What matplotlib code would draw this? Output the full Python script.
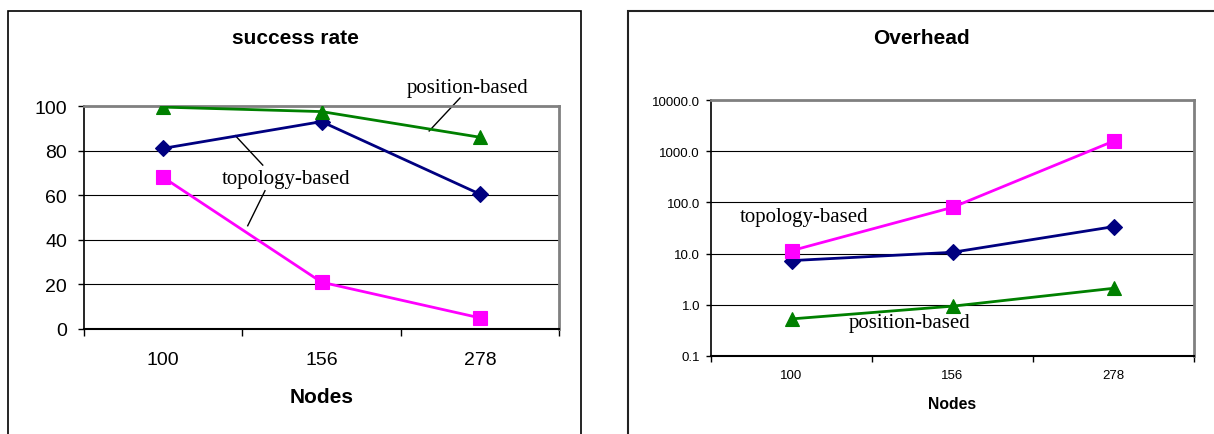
import numpy as np
import matplotlib
matplotlib.use('Agg')
import matplotlib.pyplot as plt
from matplotlib.patches import Rectangle
from matplotlib.ticker import FixedLocator, FixedFormatter, NullLocator

# data
nodes = ['100', '156', '278']
success_topo_diamond = [81, 93, 60.5]
success_topo_square = [68, 21, 5]
success_position = [99.5, 97.5, 86]
overhead_topo_diamond = [7.3, 10.6, 33.6]
overhead_topo_square = [11.4, 80, 1570]
overhead_position = [0.53, 0.94, 2.1]

W, H = 1214, 435
fig = plt.figure(figsize=(W / 100, H / 100), dpi=100)

navy = '#000080'
magenta = '#FF00FF'
green = '#008000'
sans = 'Liberation Sans'
serif = 'Liberation Serif'


def fx(px):
    return px / W


def fy(py):
    return 1 - py / H


# panel frames
fig.add_artist(Rectangle((fx(8), -0.05), fx(581) - fx(8), fy(12) + 0.05,
                         transform=fig.transFigure, fill=False, lw=1.2, ec='black'))
fig.add_artist(Rectangle((fx(628), -0.05), 1.2, fy(12) + 0.05,
                         transform=fig.transFigure, fill=False, lw=1.5, ec='#222222'))


def style_axes(ax, fs, ylen, ypad, xpad):
    x = np.arange(len(nodes))
    ax.set_xlim(-0.5, len(nodes) - 0.5)
    ax.xaxis.set_major_locator(FixedLocator(x))
    ax.xaxis.set_major_formatter(FixedFormatter(nodes))
    ax.xaxis.set_minor_locator(FixedLocator(np.arange(len(nodes) + 1) - 0.5))
    ax.tick_params(axis='x', which='major', length=0, pad=xpad, labelsize=fs)
    ax.tick_params(axis='x', which='minor', length=ylen + 1, width=1, direction='out')
    ax.tick_params(axis='y', which='major', length=ylen, width=1, direction='out',
                   pad=ypad, labelsize=fs)
    ax.tick_params(axis='y', which='minor', length=0)
    for lab in ax.get_xticklabels() + ax.get_yticklabels():
        lab.set_family(sans)
    ax.grid(axis='y', color='black', lw=0.8)
    ax.set_axisbelow(True)
    ax.spines['top'].set_color('#808080')
    ax.spines['right'].set_color('#808080')
    ax.spines['top'].set_linewidth(2)
    ax.spines['right'].set_linewidth(2)
    ax.spines['left'].set_linewidth(1.2)
    ax.spines['bottom'].set_linewidth(1.5)


def draw_series(ax, d, s, p):
    x = np.arange(len(nodes))
    ax.plot(x, d, color=navy, lw=2, marker='D', ms=8, mew=0.8, zorder=3)
    ax.plot(x, s, color=magenta, lw=2, marker='s', ms=10, mew=0.8, zorder=3)
    ax.plot(x, p, color=green, lw=2, marker='^', ms=10.5, mew=0.8, zorder=3)


# left chart: success rate
ax1 = fig.add_axes([fx(84), fy(330), fx(559) - fx(84), fy(107) - fy(330)])
draw_series(ax1, success_topo_diamond, success_topo_square, success_position)
ax1.set_ylim(0, 100)
ax1.set_yticks([0, 20, 40, 60, 80, 100])
style_axes(ax1, 14, 4.3, 8, 16)
ax1.set_xlabel('Nodes', fontsize=15, fontweight='bold', family=sans)
ax1.xaxis.set_label_coords(0.5, (330 - 398) / 223)
ax1.xaxis.label.set_va('center')
fig.text(fx(295), fy(39), 'success rate', ha='center', va='center',
         fontsize=15, fontweight='bold', family=sans)

ax1.text(1.92, 108.5, 'position-based', ha='center', va='center',
         fontsize=15, family=serif, clip_on=False)
ax1.plot([1.875, 1.68], [103.6, 88.8], color='black', lw=1, clip_on=False)
ax1.text(0.776, 67.7, 'topology-based', ha='center', va='center',
         fontsize=15, family=serif)
ax1.plot([0.629, 0.456], [73.5, 86.7], color='black', lw=1)
ax1.plot([0.643, 0.534], [62.0, 46.3], color='black', lw=1)

# right chart: overhead
ax2 = fig.add_axes([fx(711), fy(357), fx(1194) - fx(711), fy(101) - fy(357)])
draw_series(ax2, overhead_topo_diamond, overhead_topo_square, overhead_position)
ax2.set_yscale('log')
ax2.set_ylim(0.1, 10000)
ax2.yaxis.set_major_locator(FixedLocator([0.1, 1, 10, 100, 1000, 10000]))
ax2.yaxis.set_major_formatter(FixedFormatter(['0.1', '1.0', '10.0', '100.0', '1000.0', '10000.0']))
ax2.yaxis.set_minor_locator(NullLocator())
style_axes(ax2, 9.5, 3.6, 4.3, 9.5)
ax2.set_xlabel('Nodes', fontsize=11.3, fontweight='bold', family=sans)
ax2.xaxis.set_label_coords(0.5, (357 - 405) / 256)
ax2.xaxis.label.set_va('center')
fig.text(fx(921), fy(39), 'Overhead', ha='center', va='center',
         fontsize=15, fontweight='bold', family=sans)

ax2.text(0.078, 54, 'topology-based', ha='center', va='center',
         fontsize=15, family=serif)
ax2.text(0.733, 0.46, 'position-based', ha='center', va='center',
         fontsize=15, family=serif)

fig.savefig('out.png', dpi=100)
